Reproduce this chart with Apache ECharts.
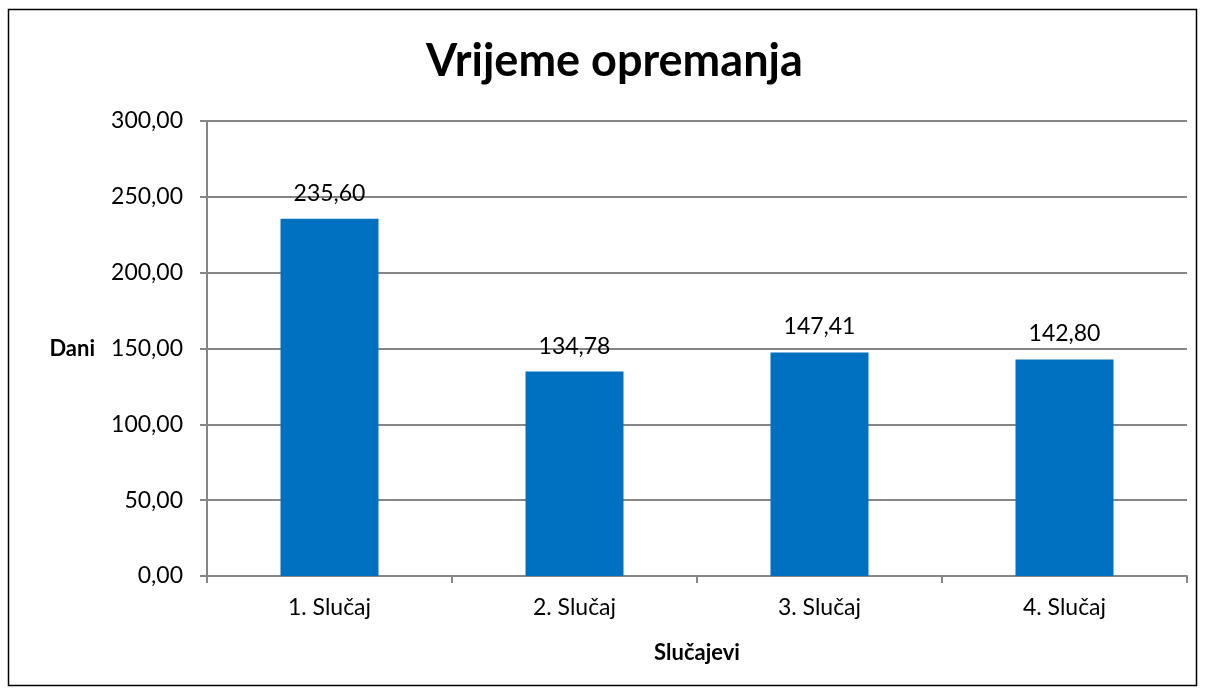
<!DOCTYPE html>
<html>
<head>
<meta charset="utf-8">
<script src="https://cdn.jsdelivr.net/npm/echarts@6/dist/echarts.min.js"></script>
<style>
  html, body { margin: 0; padding: 0; background: #fff; }
  #chart { width: 1205px; height: 693px; }
</style>
</head>
<body>
<div id="chart"></div>
<script>
// data
var categories = ['1. Slučaj', '2. Slučaj', '3. Slučaj', '4. Slučaj'];
var values = [235.60, 134.78, 147.41, 142.80];
var yTicks = { min: 0, max: 300, interval: 50 };

var fmt = function (v) { return v.toFixed(2).replace('.', ','); };
var font = 'Lato, "Open Sans", sans-serif';

var myChart = echarts.init(document.getElementById('chart'));

var option = {
  backgroundColor: '#fff',
  animation: false,
  title: {
    text: 'Vrijeme opremanja',
    left: 421,
    top: 34,
    textStyle: { fontFamily: font, fontSize: 45, fontWeight: 'bold', color: '#000' }
  },
  graphic: [{
    type: 'rect',
    shape: { x: 8.5, y: 9.5, width: 1188, height: 676 },
    style: { fill: null, stroke: '#000', lineWidth: 1.5 },
    z: -1
  }],
  grid: { left: 207, right: 18, top: 121, bottom: 117 },
  xAxis: {
    type: 'category',
    data: categories,
    name: 'Slučajevi',
    nameLocation: 'middle',
    nameGap: 66,
    nameTextStyle: { fontFamily: font, fontSize: 22, fontWeight: 'bold', color: '#000' },
    axisLine: { lineStyle: { color: '#868686', width: 2 } },
    axisTick: { show: true, length: 7, lineStyle: { color: '#868686', width: 2 } },
    axisLabel: { fontFamily: font, fontSize: 23, color: '#000', margin: 20 }
  },
  yAxis: {
    type: 'value',
    min: yTicks.min,
    max: yTicks.max,
    interval: yTicks.interval,
    name: 'Dani',
    nameLocation: 'middle',
    nameRotate: 0,
    nameGap: 112,
    nameTextStyle: { fontFamily: font, fontSize: 22, fontWeight: 'bold', color: '#000' },
    axisLine: { show: true, lineStyle: { color: '#868686', width: 2 } },
    axisTick: { show: true, length: 7, lineStyle: { color: '#868686', width: 2 } },
    axisLabel: { fontFamily: font, fontSize: 23, color: '#000', margin: 24, formatter: fmt },
    splitLine: { lineStyle: { color: '#868686', width: 2 } }
  },
  series: [{
    type: 'bar',
    data: values,
    barWidth: '40%',
    itemStyle: { color: '#0070C0' },
    label: {
      show: true,
      position: 'top',
      distance: 14,
      fontFamily: font,
      fontSize: 23,
      color: '#000',
      formatter: function (p) { return fmt(p.value); }
    }
  }]
};

myChart.setOption(option);
</script>
</body>
</html>
